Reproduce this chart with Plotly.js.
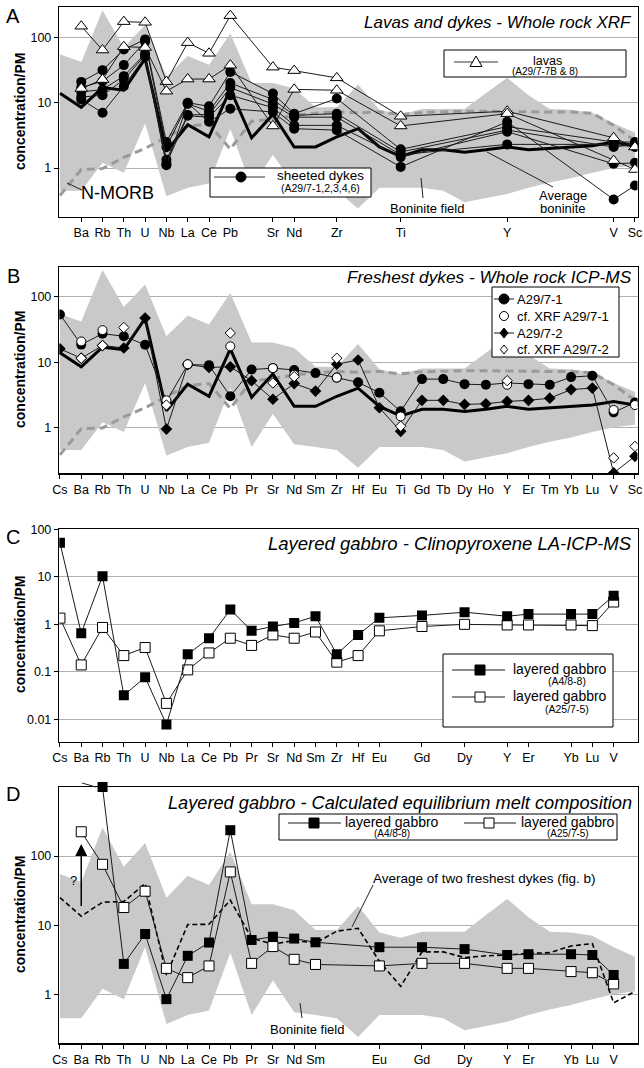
<!DOCTYPE html>
<html>
<head>
<meta charset="utf-8">
<script src="https://cdn.plot.ly/plotly-3.0.1.min.js"></script>
<style>html,body{margin:0;padding:0;background:#fff;}#chart{width:644px;height:1068px;}</style>
</head>
<body>
<div id="chart"></div>
<script>
// ---------- categories ----------
const elems = ['Cs','Ba','Rb','Th','U','Nb','La','Ce','Pb','Pr','Sr','Nd','Sm','Zr','Hf','Eu','Ti','Gd','Tb','Dy','Ho','Y','Er','Tm','Yb','Lu','V','Sc'];
const ticksA = ['Ba','Rb','Th','U','Nb','La','Ce','Pb','Sr','Nd','Zr','Ti','Y','V','Sc'];
const ticksB = elems;
const ticksC = ['Cs','Ba','Rb','Th','U','Nb','La','Ce','Pb','Pr','Sr','Nd','Sm','Zr','Hf','Eu','Gd','Dy','Y','Er','Yb','Lu','V'];
const ticksD = ['Cs','Ba','Rb','Th','U','Nb','La','Ce','Pb','Pr','Sr','Nd','Sm','Eu','Gd','Dy','Y','Er','Yb','Lu','V'];

// ---------- reference fields ----------
const fieldUpper = [55,42,260,70,155,25,52,38,115,20,20,16.5,8.5,8.5,19,7.8,6.6,8,8,8,14,24,13,8,7.8,7,4.8,3.5];
const fieldLower = [0.45,0.45,1.2,0.85,4.8,0.37,0.5,0.58,4.0,0.5,1.6,0.55,0.5,0.45,0.24,0.5,0.5,0.5,0.45,0.3,0.35,0.4,0.5,0.6,0.7,0.85,1.0,1.1];
const nmorb = [0.38,0.95,0.98,1.45,2.0,3.0,4.4,4.7,1.95,5.2,5.6,6.4,6.9,7.2,7.0,7.2,6.6,7.1,7.3,7.4,7.4,7.3,7.2,7.2,7.2,6.9,4.5,2.6];
const avgBoninite = [14,8.5,17,15.5,47,1.8,4.6,3.0,16,2.9,6.6,2.1,2.1,3.0,4.0,2.1,1.5,1.9,1.9,1.75,1.9,2.1,1.9,2.0,2.1,2.2,2.5,2.2];

// ---------- panel A: XRF ----------
const lava1 = [148,64,174,170,21,83,57,215,35,31,24,6.2,7.4,2.9,2.1];
const lava2 = [16.5,22.6,72,70,15,23,23,37.5,4.4,16,15.5,4.4,6.8,1.3,0.95];
const dyke1 = [20.8,31.5,65,93,2.5,10,8.8,29.6,13.8,6.8,11.6,1.93,4.3,2.5,2.5];
const dyke2 = [17,21.3,37.6,86,2.1,9.6,7.4,20,11.2,6.4,6.8,1.76,3.8,2.1,2.3];
const dyke3 = [14.6,15.9,25.5,56,1.34,6.5,6.6,17,9.5,6.0,6.0,1.6,2.3,2.3,2.1];
const dyke4 = [12.2,13,22.6,53.5,1.17,6.3,6.0,13,8.4,4.5,4.5,1.47,3.6,1.16,1.2];
const dyke5 = [11.2,7,17.9,50.5,1.1,9.8,5.1,8.1,7.2,4.0,3.8,1.04,5.1,0.33,0.54];

// ---------- panel B: ICP-MS ----------
const icp1 = [54,18.6,27.3,25,18.5,2.5,9.2,9.0,3.0,7.7,8.1,7.6,6.8,5.8,4.9,3.4,1.76,5.5,5.5,4.6,4.5,4.8,4.6,4.5,5.9,6.2,1.7,2.4];
const icp2 = [16,11.5,18,16.5,47.5,0.94,9.2,8.3,8.5,5.2,2.7,4.7,3.6,9.3,10.8,2.0,0.87,2.6,2.6,2.25,2.3,2.5,2.6,2.8,3.8,4.0,0.2,0.36];
const xrf1Elems = ['Ba','Rb','Nb','La','Pb','Sr','Nd','Zr','Ti','Y','V','Sc'];
const xrf1 = [20.8,31,2.6,9.3,17.5,8.1,6.4,5.8,1.47,4.5,1.85,2.2];
const xrf2Elems = ['Ba','Rb','Th','Nb','Pb','Sr','Nd','Zr','Ti','Y','V','Sc'];
const xrf2 = [11.5,18,34,2.2,28,4.8,6.0,11.5,1.04,5.2,0.34,0.51];

// ---------- panel C: clinopyroxene ----------
const gab1 = [52,0.65,10.3,0.032,0.077,0.0078,0.235,0.51,2.04,0.73,0.9,1.07,1.48,0.235,0.6,1.37,1.54,1.8,1.48,1.64,1.64,1.64,4.0];
const gab2 = [1.35,0.14,0.86,0.22,0.325,0.0217,0.11,0.25,0.51,0.36,0.6,0.51,0.69,0.16,0.22,0.73,0.9,1.0,0.97,0.97,0.97,0.94,2.95];

// ---------- panel D: equilibrium melt ----------
const melt1Elems = ['Rb','Th','U','Nb','La','Ce','Pb','Pr','Sr','Nd','Sm','Eu','Gd','Dy','Y','Er','Yb','Lu','V'];
const melt1 = [1000,2.75,7.45,0.85,3.6,5.6,237,6.1,6.8,6.4,5.65,4.8,4.8,4.5,3.7,3.8,3.8,3.7,1.9];
const melt2Elems = ['Ba','Rb','Th','U','Nb','La','Ce','Pb','Pr','Sr','Nd','Sm','Eu','Gd','Dy','Y','Er','Yb','Lu','V'];
const melt2 = [225,76,18,31,2.37,1.74,2.57,59,2.8,4.9,3.2,2.7,2.57,2.8,2.8,2.37,2.37,2.13,2.05,1.41];
const dykeAvg = [25,13.5,21.5,22,40,1.9,10.2,10.3,23,6.5,5.3,6.0,5.5,8.2,9.0,3.0,1.3,4.1,4.1,3.4,3.6,3.7,3.9,4.0,5.0,5.4,0.75,1.1];

// ---------- helpers ----------
const W = 644, H = 1068;
const px = v => v / W;
const py = v => 1 - v / H;
const idx = e => elems.indexOf(e);
const xsOf = list => list.map(idx);
const allX = elems.map((e, i) => i);
const FONT = 'Liberation Sans, Arial, Helvetica, sans-serif';

function field(xa, ya) {
  return {x: allX.concat(allX.slice().reverse()), y: fieldUpper.concat(fieldLower.slice().reverse()),
    xaxis: xa, yaxis: ya, mode: 'lines', fill: 'toself', fillcolor: '#c9c9c9',
    line: {width: 0, color: '#c9c9c9'}, hoverinfo: 'skip', showlegend: false};
}
function tr(xa, ya, x, y, opts) {
  return Object.assign({x: x, y: y, xaxis: xa, yaxis: ya, mode: 'lines', showlegend: false, hoverinfo: 'skip'}, opts);
}
const thin = {color: '#1a1a1a', width: 1};
const mkCircle = {symbol: 'circle', size: 10, color: 'black'};
const mkTri = {symbol: 'triangle-up', size: 11, color: 'white', line: {color: 'black', width: 1}};
const mkDiamond = {symbol: 'diamond', size: 9, color: 'black'};
const mkOpenCircle = {symbol: 'circle', size: 9, color: 'white', line: {color: 'black', width: 1}};
const mkOpenDiamond = {symbol: 'diamond', size: 8, color: 'white', line: {color: 'black', width: 1}};
const mkSquare = {symbol: 'square', size: 10, color: 'black'};
const mkOpenSquare = {symbol: 'square', size: 10, color: 'white', line: {color: 'black', width: 1}};
const nmorbLine = {color: '#9a9a9a', width: 3, dash: '8px,5px'};
const avgLine = {color: 'black', width: 3};

const traces = [];
// Panel A
traces.push(field('x', 'y'));
traces.push(tr('x','y', allX, nmorb, {line: nmorbLine}));
traces.push(tr('x','y', allX, avgBoninite, {line: avgLine}));
[dyke1, dyke2, dyke3, dyke4, dyke5].forEach(d => traces.push(tr('x','y', xsOf(ticksA), d, {mode: 'lines+markers', line: thin, marker: mkCircle})));
[lava1, lava2].forEach(d => traces.push(tr('x','y', xsOf(ticksA), d, {mode: 'lines+markers', line: thin, marker: mkTri})));
// Panel B
traces.push(field('x2', 'y2'));
traces.push(tr('x2','y2', allX, nmorb, {line: nmorbLine}));
traces.push(tr('x2','y2', allX, avgBoninite, {line: avgLine}));
traces.push(tr('x2','y2', allX, icp2, {mode: 'lines+markers', line: thin, marker: mkDiamond}));
traces.push(tr('x2','y2', allX, icp1, {mode: 'lines+markers', line: thin, marker: mkCircle}));
traces.push(tr('x2','y2', xsOf(xrf1Elems), xrf1, {mode: 'markers', marker: mkOpenCircle}));
traces.push(tr('x2','y2', xsOf(xrf2Elems), xrf2, {mode: 'markers', marker: mkOpenDiamond}));
// Panel C
traces.push(tr('x3','y3', xsOf(ticksC), gab2, {mode: 'lines+markers', line: thin, marker: mkOpenSquare}));
traces.push(tr('x3','y3', xsOf(ticksC), gab1, {mode: 'lines+markers', line: thin, marker: mkSquare}));
// Panel D
traces.push(field('x4', 'y4'));
traces.push(tr('x4','y4', allX, dykeAvg, {line: {color: 'black', width: 1.6, dash: '5px,3px'}}));
traces.push(tr('x4','y4', xsOf(melt2Elems), melt2, {mode: 'lines+markers', line: thin, marker: mkOpenSquare}));
traces.push(tr('x4','y4', xsOf(melt1Elems), melt1, {mode: 'lines+markers', line: thin, marker: mkSquare, cliponaxis: false}));

// ---------- axes ----------
const XR = [-0.03, 27.12];
const XDOM = [59.3 / W, 637.5 / W];
function xax(ticks, anchor) {
  return {range: XR, domain: XDOM, anchor: anchor, tickmode: 'array', tickvals: xsOf(ticks), ticktext: ticks,
    showline: true, mirror: true, linecolor: 'black', linewidth: 1.5, ticks: 'outside', ticklen: 4, tickcolor: 'black',
    showgrid: false, zeroline: false, tickfont: {size: 12.5, family: FONT, color: 'black'}, fixedrange: true};
}
function yax(range, top, bottom, vals, texts, anchor) {
  return {type: 'log', range: range, domain: [py(bottom), py(top)], anchor: anchor, tickmode: 'array', tickvals: vals, ticktext: texts,
    showline: true, mirror: true, linecolor: 'black', linewidth: 1.5, ticks: 'outside', ticklen: 4, tickcolor: 'black',
    showgrid: true, gridcolor: '#b0b0b0', gridwidth: 1, zeroline: false, tickfont: {size: 12.5, family: FONT, color: 'black'}, fixedrange: true};
}

// ---------- annotations ----------
const ann = [];
function txt(x, y, text, size, extra) {
  ann.push(Object.assign({xref: 'paper', yref: 'paper', x: px(x), y: py(y), text: text, showarrow: false,
    xanchor: 'center', yanchor: 'middle', font: {size: size, family: FONT, color: 'black'}}, extra || {}));
}
txt(13, 16, 'A', 20); txt(13, 276, 'B', 20); txt(13, 537, 'C', 20); txt(13, 794, 'D', 20);
[112, 370, 635, 915].forEach(c => txt(20, c, '<b>concentration/PM</b>', 14, {textangle: -90}));
txt(634, 23, '<i>Lavas and dykes - Whole rock XRF</i>', 17, {xanchor: 'right'});
txt(634, 277, '<i>Freshest dykes - Whole rock ICP-MS</i>', 17.3, {xanchor: 'right'});
txt(634, 543, '<i>Layered gabbro - Clinopyroxene LA-ICP-MS</i>', 18.5, {xanchor: 'right'});
txt(634, 803, '<i>Layered gabbro - Calculated equilibrium melt composition</i>', 18.2, {xanchor: 'right'});
// panel A labels
txt(117, 193, 'N-MORB', 18);
txt(427, 208, 'Boninite field', 13);
txt(563, 195, 'Average', 13);
txt(563, 209, 'boninite', 13);
// panel D labels
txt(485, 878, 'Average of two freshest dykes (fig. b)', 13.5);
txt(307, 1029, 'Boninite field', 13);
txt(73, 880, '?', 13);
ann.push({xref: 'x4', yref: 'y4', axref: 'x4', ayref: 'y4', x: idx('Ba'), y: Math.log10(150), ax: idx('Ba'), ay: Math.log10(18),
  text: '', showarrow: true, arrowhead: 2, arrowsize: 1.6, arrowwidth: 1.5, arrowcolor: 'black'});

// ---------- shapes: leader lines + hand-drawn legends ----------
const shapes = [];
const seg = (x0, y0, x1, y1, color, width) => shapes.push({type: 'line', xref: 'paper', yref: 'paper',
  x0: px(x0), y0: py(y0), x1: px(x1), y1: py(y1), line: {color: color || '#222', width: width || 1}});
const box = (x0, y0, x1, y1) => shapes.push({type: 'rect', xref: 'paper', yref: 'paper',
  x0: px(x0), y0: py(y1), x1: px(x1), y1: py(y0), fillcolor: 'white', line: {color: 'black', width: 1}});
const pathShape = (pts, fill) => shapes.push({type: 'path', xref: 'paper', yref: 'paper',
  path: 'M ' + pts.map(p => px(p[0]) + ',' + py(p[1])).join(' L ') + ' Z', fillcolor: fill, line: {color: 'black', width: 1}});
const keyCircle = (cx, cy, r, fill) => shapes.push({type: 'circle', xref: 'paper', yref: 'paper',
  x0: px(cx - r), x1: px(cx + r), y0: py(cy + r), y1: py(cy - r), fillcolor: fill, line: {color: 'black', width: 1}});
const keySquare = (cx, cy, r, fill) => shapes.push({type: 'rect', xref: 'paper', yref: 'paper',
  x0: px(cx - r), x1: px(cx + r), y0: py(cy + r), y1: py(cy - r), fillcolor: fill, line: {color: 'black', width: 1}});
const keyTri = (cx, cy) => pathShape([[cx, cy - 6], [cx + 6, cy + 4.5], [cx - 6, cy + 4.5]], 'white');
const keyDiamond = (cx, cy, r, fill) => pathShape([[cx, cy - r], [cx + r * 0.8, cy], [cx, cy + r], [cx - r * 0.8, cy]], fill);

// leader lines
seg(67, 183, 82, 190);
seg(423, 198, 421, 178);
seg(553, 187, 487, 152);
seg(373, 885, 352, 927);
seg(302, 1018, 300, 1003);
seg(82, 783, 96, 787);

// legend A: lavas
box(444, 50, 626, 77);
seg(454, 62, 498, 62, '#333', 1);
keyTri(476, 62);
txt(547, 61, 'lavas', 12.5);
txt(545, 72, '(A29/7-7B & 8)', 10);
// legend A: sheeted dykes
box(210, 168, 371, 197);
seg(214, 177, 265, 177, '#777', 1.5);
keyCircle(241, 177, 5, 'black');
txt(320, 176, 'sheeted dykes', 13.5);
txt(320, 188, '(A29/7-1,2,3,4,6)', 10.5);
// legend B
box(492, 287, 619, 357);
const legBy = [299, 316, 333, 349.5];
seg(494, legBy[0], 514, legBy[0], '#1a1a1a', 1); keyCircle(504, legBy[0], 5, 'black');
keyCircle(504, legBy[1], 4.5, 'white');
seg(494, legBy[2], 514, legBy[2], '#1a1a1a', 1); keyDiamond(504, legBy[2], 5, 'black');
keyDiamond(504, legBy[3], 4.5, 'white');
['A29/7-1', 'cf. XRF A29/7-1', 'A29/7-2', 'cf. XRF A29/7-2'].forEach((t, i) => txt(515, legBy[i], t, 13, {xanchor: 'left'}));
// legend C
box(443, 654, 613, 727);
seg(452, 670, 505, 670, '#1a1a1a', 1); keySquare(480, 670, 5, 'black');
seg(452, 697, 505, 697, '#1a1a1a', 1); keySquare(480, 697, 5, 'white');
txt(560, 669, 'layered gabbro', 14); txt(567, 681, '(A4/8-8)', 10.5);
txt(560, 696, 'layered gabbro', 14); txt(567, 709, '(A25/7-5)', 10.5);
// legend D
box(279, 814, 617, 840);
seg(288, 823, 341, 823, '#1a1a1a', 1); keySquare(314, 823, 5, 'black');
seg(464, 823, 516, 823, '#1a1a1a', 1); keySquare(489, 823, 5, 'white');
txt(392, 822, 'layered gabbro', 14); txt(392, 833.5, '(A4/8-8)', 10);
txt(568, 822, 'layered gabbro', 14); txt(568, 833.5, '(A25/7-5)', 10);

const layout = {
  width: W, height: H, margin: {l: 0, r: 0, t: 0, b: 0}, paper_bgcolor: 'white', plot_bgcolor: 'white',
  font: {family: FONT, size: 12, color: 'black'}, showlegend: false, hovermode: false,
  xaxis: xax(ticksA, 'y'), xaxis2: xax(ticksB, 'y2'), xaxis3: xax(ticksC, 'y3'), xaxis4: xax(ticksD, 'y4'),
  yaxis: yax([-0.745, 2.46], 7.3, 216.7, [1, 10, 100], ['1', '10', '100'], 'x'),
  yaxis2: yax([-0.70, 2.46], 267, 473, [1, 10, 100], ['1', '10', '100'], 'x2'),
  yaxis3: yax([-2.47, 2.0], 529.3, 741.7, [0.01, 0.1, 1, 10, 100], ['0.01', '0.1', '1', '10', '100'], 'x3'),
  yaxis4: yax([-0.71, 3.0], 787, 1043.3, [1, 10, 100], ['1', '10', '100'], 'x4'),
  annotations: ann, shapes: shapes
};

Plotly.newPlot('chart', traces, layout, {staticPlot: true, displayModeBar: false});
</script>
</body>
</html>
